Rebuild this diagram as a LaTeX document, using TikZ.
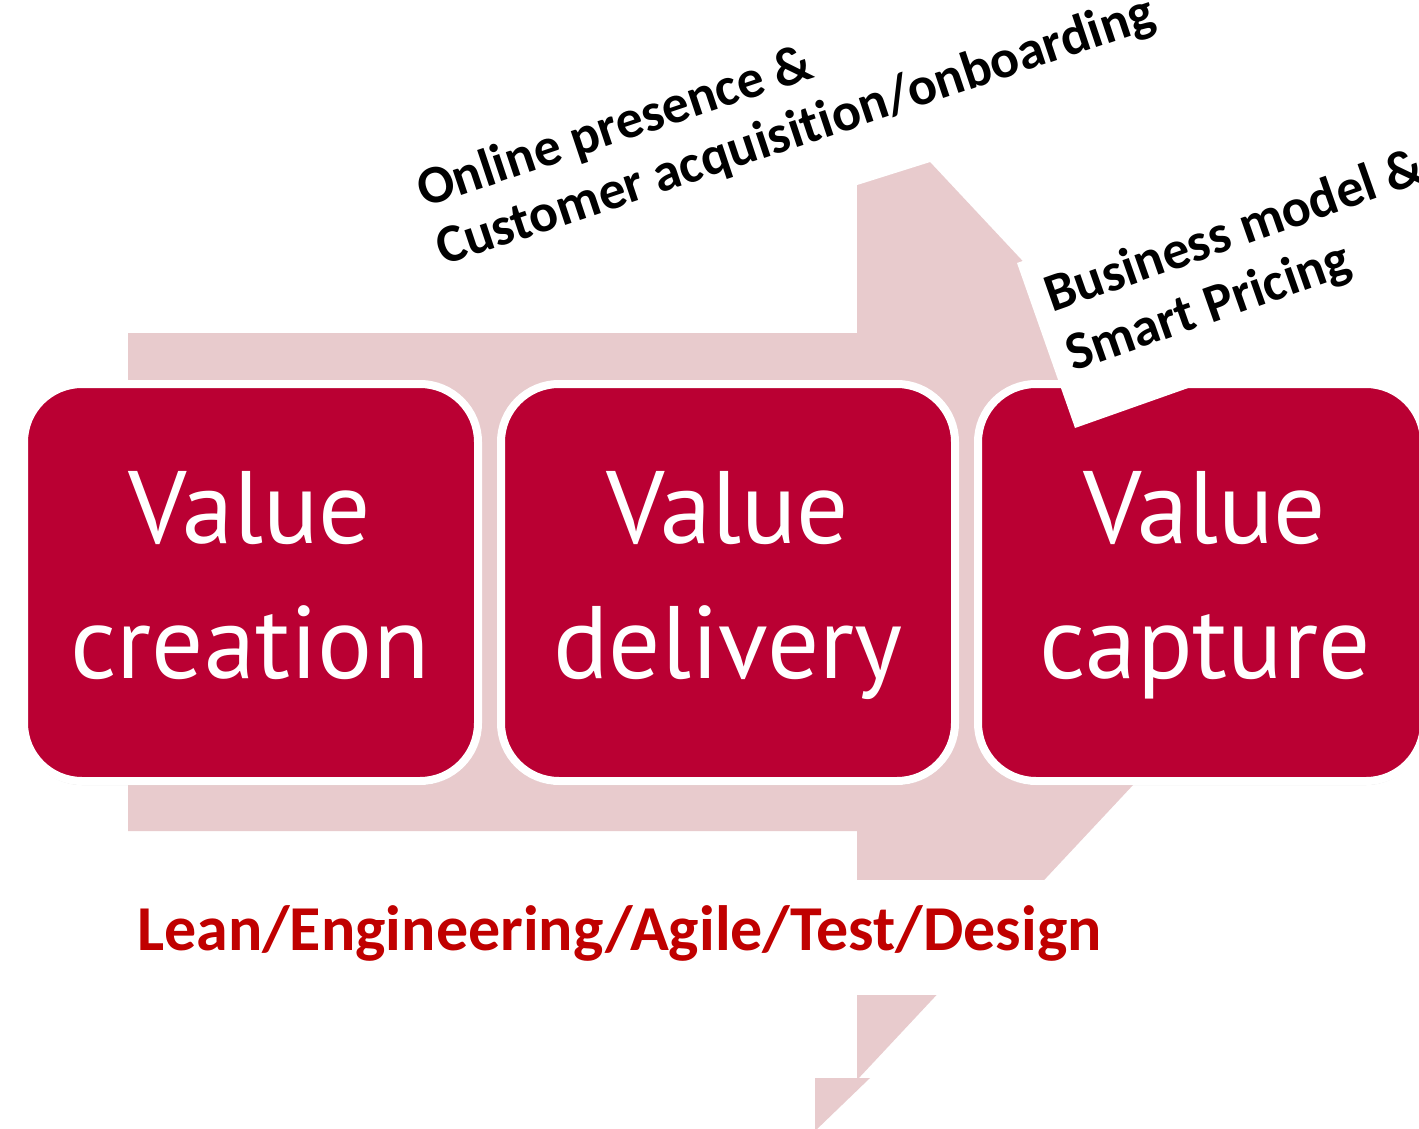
\documentclass[tikz,border=0pt]{standalone}
\usepackage{fontspec}
\setmainfont[Ligatures=NoCommon]{Carlito}
\newfontfamily\boxfont{PT Sans}
\newfontfamily\lblfont[Ligatures=NoCommon]{Carlito}
\usetikzlibrary{shadows}
\definecolor{arrowpink}{RGB}{232,203,205}
\definecolor{boxred}{RGB}{186,0,51}
\definecolor{leanred}{RGB}{192,0,0}
\begin{document}
\begin{tikzpicture}[x=1pt,y=-1pt,
  vbox/.style={draw=white, line width=8pt, fill=boxred, rounded corners=58pt,
    minimum height=397pt, inner sep=0pt,
    drop shadow={shadow xshift=0pt, shadow yshift=-4pt, opacity=0.3}},
  boxtext/.style={text=white, font=\boxfont\fontsize{103}{103}\selectfont, anchor=base, inner sep=0pt},
  lbl/.style={font=\lblfont\bfseries\fontsize{54}{54}\selectfont, anchor=base west, inner sep=0pt},
  cover/.style={fill=white, draw=none},
  pinkfill/.style={fill=arrowpink, draw=none}
]
\useasboundingbox (0,0) rectangle (1419,1129);
\clip (0,0) rectangle (1419,1129);
\fill[white] (0,0) rectangle (1419,1129);

% big background arrow
\fill[pinkfill] (128,333) -- (857,333) -- (857,84) -- (1323,582) -- (857,1080) -- (857,831) -- (128,831) -- cycle;
% white areas behind the labels
\fill[cover] (700,234.5) -- (1100,108.5) -- (1100,-10) -- (700,-10) -- cycle;
\fill[cover] (840,880) rectangle (1250,995);
\fill[cover] (840,1078) rectangle (1250,1140);
% small fragment at the bottom
\fill[pinkfill] (815,1078) -- (870,1078) -- (815,1131) -- cycle;

% value boxes
\node[vbox, minimum width=454pt] (b1) at (251,582.5) {};
\node[vbox, minimum width=454pt] (b2) at (728,582.5) {};
\node[vbox, minimum width=446pt] (b3) at (1201,582.5) {};

% white box of the business label
\fill[cover] (1017,263) -- (1075,428) -- (1641,228) -- (1583,63) -- cycle;

% box texts
\node[boxtext] (t1a) at (250,543) {Value};
\node[boxtext] (t1b) at (250,678) {creation};
\node[boxtext] (t2a) at (728,543) {Value};
\node[boxtext] (t2b) at (728,678) {delivery};
\node[boxtext] (t3a) at (1205,543) {Value};
\node[boxtext] (t3b) at (1205,678) {capture};

% labels
\node[lbl, rotate=18.5] (l1a) at (424,208) {Online presence \&};
\node[lbl, rotate=18.5] (l1b) at (443,266) {Customer acquisition/onboarding};
\node[lbl, rotate=19.4] (l2a) at (1052,313) {Business model \&};
\node[lbl, rotate=19.4] (l2b) at (1073,372) {Smart Pricing};

\node[font=\lblfont\bfseries\fontsize{64}{64}\selectfont, text=leanred, anchor=base west, inner sep=0pt] (lean) at (137,950) {Lean/Engineering/Agile/Test/Design};
\end{tikzpicture}
\end{document}
